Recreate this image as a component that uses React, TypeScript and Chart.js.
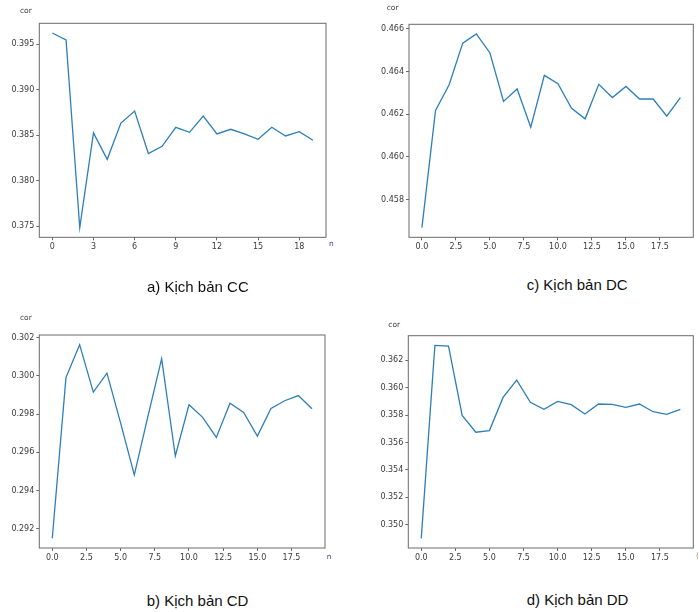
import React, { useEffect, useRef } from 'react';
import { Chart, registerables } from 'chart.js';

Chart.register(...registerables);

// ---- data ----
const steps = [0, 1, 2, 3, 4, 5, 6, 7, 8, 9, 10, 11, 12, 13, 14, 15, 16, 17, 18, 19];

const ccValues = [0.39625, 0.39548, 0.37485, 0.38526, 0.38236, 0.38635, 0.38767, 0.38299, 0.38379, 0.38588,
  0.38533, 0.38712, 0.38515, 0.38566, 0.38515, 0.38456, 0.38588, 0.38493, 0.3854, 0.38445];
const dcValues = [0.45668, 0.46217, 0.46338, 0.46533, 0.46576, 0.46487, 0.4626, 0.46318, 0.46139, 0.46382,
  0.46343, 0.46228, 0.46178, 0.4634, 0.46278, 0.4633, 0.46271, 0.46271, 0.46191, 0.46278];
const cdValues = [0.29151, 0.29991, 0.30163, 0.29915, 0.30014, 0.29753, 0.29483, 0.2979, 0.3009, 0.29581,
  0.29849, 0.29783, 0.29678, 0.29857, 0.29809, 0.29685, 0.2983, 0.2987, 0.29897, 0.29828];
const ddValues = [0.34901, 0.36309, 0.36304, 0.35798, 0.35675, 0.35687, 0.35929, 0.36055, 0.35893, 0.35842,
  0.359, 0.35876, 0.35808, 0.35881, 0.35878, 0.35856, 0.35881, 0.35825, 0.35806, 0.35842];

const ccYTicks = [0.375, 0.38, 0.385, 0.39, 0.395];
const dcYTicks = [0.458, 0.46, 0.462, 0.464, 0.466];
const cdYTicks = [0.292, 0.294, 0.296, 0.298, 0.3, 0.302];
const ddYTicks = [0.35, 0.352, 0.354, 0.356, 0.358, 0.36, 0.362];

const intXTicks = [0, 3, 6, 9, 12, 15, 18];
const halfXTicks = [0, 2.5, 5, 7.5, 10, 12.5, 15, 17.5];

const yAxisTitle = 'cor';
const xAxisTitle = 'n';
const captionA = 'a) Kịch bản CC';
const captionB = 'b) Kịch bản CD';
const captionC = 'c) Kịch bản DC';
const captionD = 'd) Kịch bản DD';

type Box = { left: number; top: number; width: number; height: number };
type Area = { left: number; top: number; right: number; bottom: number };

const framePlugin = {
  id: 'frame',
  afterDraw(chart: any) {
    const { ctx, chartArea } = chart;
    ctx.save();
    ctx.strokeStyle = '#6a6a6a';
    ctx.lineWidth = 1;
    ctx.strokeRect(chartArea.left, chartArea.top, chartArea.right - chartArea.left, chartArea.bottom - chartArea.top);
    ctx.restore();
  },
};

function Panel(props: {
  values: number[];
  yTicks: number[];
  xTicks: number[];
  xDecimals: number;
  yDecimals: number;
  box: Box;
  area: Area;
}) {
  const ref = useRef<HTMLCanvasElement | null>(null);
  const { values, yTicks, xTicks, xDecimals, yDecimals, box, area } = props;

  useEffect(() => {
    if (!ref.current) return;
    const lo = Math.min(...values);
    const hi = Math.max(...values);
    const m = (hi - lo) * 0.05;
    const xm = (steps[steps.length - 1] - steps[0]) * 0.05;
    const yWidth = area.left - box.left;
    const xHeight = box.top + box.height - area.bottom;
    const tickFont = { family: '"DejaVu Sans", sans-serif', size: 8 };
    const chart = new Chart(ref.current, {
      type: 'line',
      data: {
        datasets: [
          {
            data: steps.map((s, i) => ({ x: s, y: values[i] })),
            borderColor: '#2c7fb8',
            borderWidth: 1.3,
            pointRadius: 0,
            tension: 0,
            fill: false,
          },
        ],
      },
      options: {
        animation: false,
        responsive: false,
        maintainAspectRatio: false,
        layout: {
          padding: {
            left: 0,
            top: area.top - box.top,
            right: box.left + box.width - area.right,
            bottom: 0,
          },
        },
        plugins: { legend: { display: false }, tooltip: { enabled: false } },
        scales: {
          x: {
            type: 'linear',
            min: steps[0] - xm,
            max: steps[steps.length - 1] + xm,
            afterBuildTicks: (s: any) => {
              s.ticks = xTicks.map((v) => ({ value: v }));
            },
            afterFit: (s: any) => {
              s.height = xHeight;
            },
            ticks: {
              autoSkip: false,
              maxRotation: 0,
              padding: 2,
              color: '#3a3a3a',
              font: tickFont,
              callback: (v: any) => Number(v).toFixed(xDecimals),
            },
            grid: { display: true, drawOnChartArea: false, drawTicks: true, tickLength: 3, color: '#6a6a6a' },
            border: { display: false },
          },
          y: {
            type: 'linear',
            min: lo - m,
            max: hi + m,
            afterBuildTicks: (s: any) => {
              s.ticks = yTicks.map((v) => ({ value: v }));
            },
            afterFit: (s: any) => {
              s.width = yWidth;
            },
            ticks: {
              autoSkip: false,
              padding: 2,
              color: '#3a3a3a',
              font: tickFont,
              callback: (v: any) => Number(v).toFixed(yDecimals),
            },
            grid: { display: true, drawOnChartArea: false, drawTicks: true, tickLength: 3, color: '#6a6a6a' },
            border: { display: false },
          },
        },
      },
      plugins: [framePlugin],
    });
    return () => chart.destroy();
  }, []);

  return (
    <canvas
      ref={ref}
      width={box.width}
      height={box.height}
      style={{ position: 'absolute', left: box.left, top: box.top, width: box.width, height: box.height }}
    />
  );
}

function Label(props: { text: string; left: number; baseline: number; size: number; color: string; family: string }) {
  const { text, left, baseline, size, color, family } = props;
  // line-height equals font size; baseline offset approximated
  const top = baseline - size * 0.85;
  return (
    <div
      style={{
        position: 'absolute',
        left,
        top,
        fontSize: size,
        lineHeight: `${size}px`,
        color,
        fontFamily: family,
        whiteSpace: 'nowrap',
      }}
    >
      {text}
    </div>
  );
}

const small = '"DejaVu Sans", sans-serif';
const cap = '"Liberation Sans", Arial, sans-serif';

export default function App() {
  return (
    <div
      style={{
        position: 'fixed',
        left: 0,
        top: 0,
        width: 699,
        height: 612,
        background: '#ffffff',
        overflow: 'hidden',
      }}
    >
      <Panel values={ccValues} yTicks={ccYTicks} xTicks={intXTicks} xDecimals={0} yDecimals={3}
        box={{ left: 0, top: 0, width: 349, height: 262 }} area={{ left: 39.3, top: 23.3, right: 326, bottom: 237.3 }} />
      <Panel values={dcValues} yTicks={dcYTicks} xTicks={halfXTicks} xDecimals={1} yDecimals={3}
        box={{ left: 350, top: 0, width: 349, height: 262 }} area={{ left: 409, top: 24.3, right: 693.3, bottom: 237.3 }} />
      <Panel values={cdValues} yTicks={cdYTicks} xTicks={halfXTicks} xDecimals={1} yDecimals={3}
        box={{ left: 0, top: 310, width: 349, height: 262 }} area={{ left: 39.3, top: 335, right: 325, bottom: 548 }} />
      <Panel values={ddValues} yTicks={ddYTicks} xTicks={halfXTicks} xDecimals={1} yDecimals={3}
        box={{ left: 350, top: 310, width: 349, height: 262 }} area={{ left: 408.3, top: 335.7, right: 693.3, bottom: 548 }} />

      <Label text={yAxisTitle} left={20} baseline={13.3} size={7.5} color="#3d3d3d" family={small} />
      <Label text={yAxisTitle} left={386.7} baseline={10.3} size={7.5} color="#3d3d3d" family={small} />
      <Label text={yAxisTitle} left={20} baseline={320} size={7.5} color="#3d3d3d" family={small} />
      <Label text={yAxisTitle} left={388.3} baseline={327.7} size={7.5} color="#3d3d3d" family={small} />

      <Label text={xAxisTitle} left={329} baseline={246.7} size={7.5} color="#34457a" family={small} />
      <Label text={xAxisTitle} left={326.7} baseline={559.3} size={7.5} color="#34457a" family={small} />
      <Label text="(" left={696} baseline={558} size={7.5} color="#b08a5a" family={small} />

      <Label text={captionA} left={147} baseline={291.7} size={15} color="#111111" family={cap} />
      <Label text={captionC} left={526.7} baseline={290} size={15} color="#111111" family={cap} />
      <Label text={captionB} left={146.7} baseline={606} size={15} color="#111111" family={cap} />
      <Label text={captionD} left={526.7} baseline={605} size={15} color="#111111" family={cap} />
    </div>
  );
}
